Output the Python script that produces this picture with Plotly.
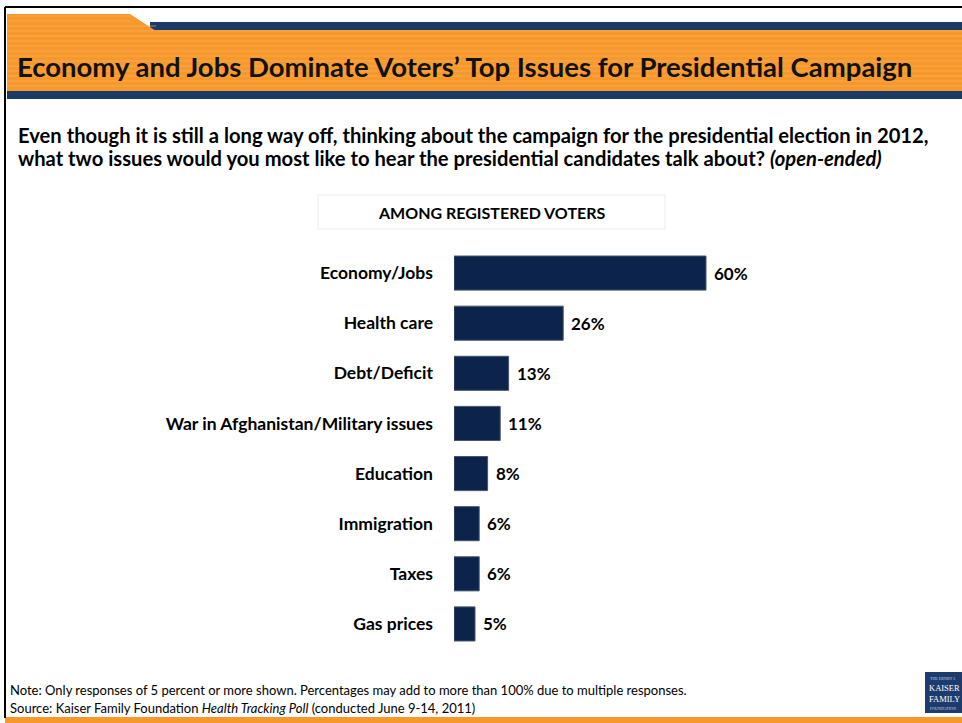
import plotly.graph_objects as go

# Survey results (percent of registered voters)
categories = ["Economy/Jobs", "Health care", "Debt/Deficit",
              "War in Afghanistan/Military issues", "Education",
              "Immigration", "Taxes", "Gas prices"]
values = [60, 26, 13, 11, 8, 6, 6, 5]

W_FIG, H_FIG = 962, 723
L, R, T, B = 454, 88, 248, 74
PW = W_FIG - L - R
PH = H_FIG - T - B

NAVY = "#1b3a66"
BAR = "#0c234b"
ORANGE = "#f7982c"
FONT = "Lato"


def px(x):
    return (x - L) / PW


def py(y):
    return (H_FIG - B - y) / PH


fig = go.Figure()
fig.add_trace(go.Bar(
    x=values, y=categories, orientation="h",
    width=0.68,
    marker=dict(color=BAR, line=dict(color="#4a566a", width=1)),
    hoverinfo="skip",
))

shapes = []


def rect(x0, y0, x1, y1, color, line=None, layer="below"):
    shapes.append(dict(type="rect", xref="paper", yref="paper",
                       x0=px(x0), x1=px(x1), y0=py(y0), y1=py(y1),
                       fillcolor=color,
                       line=line or dict(width=0), layer=layer))


# frame
shapes.append(dict(type="line", xref="paper", yref="paper",
                   x0=px(5), x1=px(962), y0=py(7), y1=py(7),
                   line=dict(color="black", width=2)))
shapes.append(dict(type="line", xref="paper", yref="paper",
                   x0=px(5), x1=px(5), y0=py(7), y1=py(718),
                   line=dict(color="black", width=2)))

# header band
rect(150, 22, 962, 30, NAVY)
shapes.append(dict(type="path", xref="paper", yref="paper",
                   path=f"M {px(7)} {py(14)} L {px(130)} {py(14)} L {px(156)} {py(31)} L {px(7)} {py(31)} Z",
                   fillcolor=ORANGE, line=dict(width=0), layer="below"))
rect(7, 30, 962, 91, ORANGE)
for yy in range(16, 90, 5):
    x_end = 130 if yy < 22 else (156 if yy < 30 else 962)
    shapes.append(dict(type="line", xref="paper", yref="paper",
                       x0=px(7), x1=px(x_end), y0=py(yy), y1=py(yy),
                       line=dict(color="#fbb55e", width=1), opacity=0.6,
                       layer="below"))
rect(7, 91, 962, 99, NAVY)

# subtitle box
rect(318, 195, 665, 229, "white", line=dict(color="#ececec", width=1))

# bottom strip
rect(5, 717, 962, 723, ORANGE)

# logo
rect(925, 672, 962, 713, "#1e3b6e")

annotations = [
    dict(text="Economy and Jobs Dominate Voters’ Top Issues for Presidential Campaign",
         x=px(15), y=py(66), xanchor="left", yanchor="middle",
         font=dict(family=FONT, size=27.5, color="#111111", weight="bold")),
    dict(text="Even though it is still a long way off, thinking about the campaign for the presidential election in 2012,",
         x=px(16), y=py(135), xanchor="left", yanchor="middle",
         font=dict(family=FONT, size=20.2, color="black", weight="bold")),
    dict(text="what two issues would you most like to hear the presidential candidates talk about? <i>(open-ended)</i>",
         x=px(16), y=py(158), xanchor="left", yanchor="middle",
         font=dict(family=FONT, size=20.2, color="black", weight="bold")),
    dict(text="AMONG REGISTERED VOTERS",
         x=px(491), y=py(212), xanchor="center", yanchor="middle",
         font=dict(family=FONT, size=16, color="black", weight="bold")),
    dict(text="Note: Only responses of 5 percent or more shown. Percentages may add to more than 100% due to multiple responses.",
         x=px(8), y=py(690), xanchor="left", yanchor="middle",
         font=dict(family=FONT, size=13, color="black")),
    dict(text="Source: Kaiser Family Foundation <i>Health Tracking Poll</i> (conducted June 9-14, 2011)",
         x=px(8), y=py(708), xanchor="left", yanchor="middle",
         font=dict(family=FONT, size=13, color="black")),
    dict(text="THE HENRY J.", x=px(928), y=py(678), xanchor="left", yanchor="middle",
         font=dict(family="Liberation Serif", size=4, color="#c8d2e4")),
    dict(text="KAISER", x=px(927), y=py(688), xanchor="left", yanchor="middle",
         font=dict(family="Liberation Serif", size=8.5, color="white")),
    dict(text="FAMILY", x=px(927), y=py(699), xanchor="left", yanchor="middle",
         font=dict(family="Liberation Serif", size=8.5, color="white")),
    dict(text="FOUNDATION", x=px(928), y=py(708), xanchor="left", yanchor="middle",
         font=dict(family="Liberation Serif", size=4, color="#c8d2e4")),
]

# value labels at bar ends
for c, v in zip(categories, values):
    annotations.append(dict(text=f"{v}%", x=v, y=c, xref="x", yref="y",
                            xanchor="left", yanchor="middle", xshift=6,
                            showarrow=False,
                            font=dict(family=FONT, size=17, color="black", weight="bold")))

for a in annotations:
    a.setdefault("xref", "paper")
    a.setdefault("yref", "paper")
    a.setdefault("showarrow", False)

fig.update_layout(
    width=W_FIG, height=H_FIG,
    margin=dict(l=L, r=R, t=T, b=B),
    paper_bgcolor="white", plot_bgcolor="white",
    showlegend=False,
    xaxis=dict(range=[0, 100], visible=False, fixedrange=True),
    yaxis=dict(autorange="reversed", showgrid=False, zeroline=False,
               showline=False, ticks="", ticklabelstandoff=20,
               tickfont=dict(family=FONT, size=17.5, color="black", weight="bold")),
    shapes=shapes,
    annotations=annotations,
)

fig.write_html("out.html")
